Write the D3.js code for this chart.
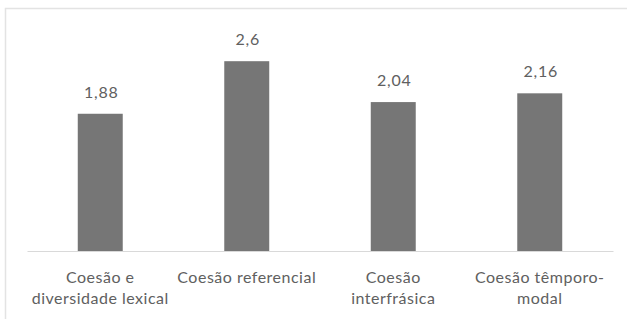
<!DOCTYPE html>
<html>
<head>
<meta charset="utf-8">
<script src="https://cdn.jsdelivr.net/npm/d3@7"></script>
<style>
  body { margin: 0; background: #fff; }
  text { font-family: Lato, "Open Sans", sans-serif; fill: #606060; }
</style>
</head>
<body>
<script>
// chart data
var categories = [
    ["Coesão e", "diversidade lexical"],
    ["Coesão referencial"],
    ["Coesão", "interfrásica"],
    ["Coesão têmporo-", "modal"]
];
var values = [1.88, 2.6, 2.04, 2.16];
var valueLabels = ["1,88", "2,6", "2,04", "2,16"];
var yMax = 3;

var width = 627, height = 319;
var margin = { top: 32, right: 14, bottom: 68, left: 27 };

var svg = d3.select("body").append("svg")
    .attr("width", width)
    .attr("height", height);

// outer chart border (runs off the right and bottom edges)
svg.append("rect")
    .attr("x", 5.5)
    .attr("y", 8.5)
    .attr("width", 700)
    .attr("height", 400)
    .attr("fill", "none")
    .attr("stroke", "#e3e3e3")
    .attr("stroke-width", 1.5);

var x = d3.scaleBand()
    .domain(d3.range(values.length))
    .range([margin.left, width - margin.right])
    .paddingInner(0.693)
    .paddingOuter(0.3465);

var y = d3.scaleLinear()
    .domain([0, yMax])
    .range([height - margin.bottom, margin.top]);

// bars
svg.selectAll(".bar")
    .data(values)
    .enter().append("rect")
    .attr("class", "bar")
    .attr("x", function(d, i) { return x(i); })
    .attr("y", function(d) { return y(d); })
    .attr("width", x.bandwidth())
    .attr("height", function(d) { return y(0) - y(d); })
    .attr("fill", "#767676");

// baseline
var xAxis = d3.axisBottom(x).tickSize(0).tickFormat("");
var gx = svg.append("g")
    .attr("transform", "translate(0," + y(0) + ")")
    .call(xAxis);
gx.select(".domain").attr("stroke", "#d9d9d9").attr("stroke-width", 1.2);

// value labels
svg.selectAll(".val")
    .data(values)
    .enter().append("text")
    .attr("class", "val")
    .attr("x", function(d, i) { return x(i) + x.bandwidth() / 2 + 1; })
    .attr("y", function(d) { return y(d) - 16; })
    .attr("text-anchor", "middle")
    .style("font-size", "16px")
    .style("letter-spacing", "0.8px")
    .text(function(d, i) { return valueLabels[i]; });

// category labels
var cat = svg.selectAll(".cat")
    .data(categories)
    .enter().append("text")
    .attr("class", "cat")
    .attr("text-anchor", "middle")
    .style("font-size", "16px")
    .style("letter-spacing", "0.5px")
    .attr("y", y(0) + 32);

cat.selectAll("tspan")
    .data(function(d, i) { return d.map(function(t) { return { t: t, i: i }; }); })
    .enter().append("tspan")
    .attr("x", function(d) { return x(d.i) + x.bandwidth() / 2; })
    .attr("dy", function(d, j) { return j === 0 ? 0 : 21; })
    .text(function(d) { return d.t; });
</script>
</body>
</html>
